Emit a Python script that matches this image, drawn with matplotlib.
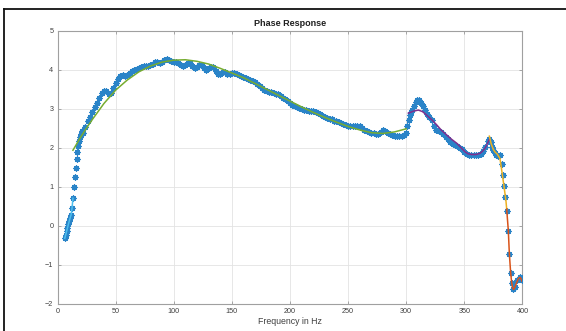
import numpy as np
import matplotlib
matplotlib.use("Agg")
import matplotlib.pyplot as plt
from matplotlib.lines import Line2D

# measured phase (blue stars) - low end, dense middle, steep high end
low_freq = [6.25, 7.03, 7.81, 8.59, 9.38, 10.16, 10.94, 11.72, 12.5, 13.28,
            14.06, 14.84, 15.63, 16.41, 17.19, 17.97, 18.75, 19.53, 20.31, 21.09]
low_phase = [-0.33, -0.24, -0.15, -0.06, 0.03, 0.12, 0.20, 0.28, 0.44, 0.70,
             0.98, 1.24, 1.48, 1.70, 1.89, 2.05, 2.17, 2.26, 2.34, 2.42]

mid_freq = np.arange(22, 301, 2)
mid_phase = [2.36, 2.52, 2.67, 2.79, 2.91, 3.03, 3.15, 3.28, 3.40, 3.45,
             3.44, 3.38, 3.40, 3.52, 3.65, 3.76, 3.83, 3.85, 3.83, 3.86,
             3.91, 3.96, 3.99, 4.02, 4.04, 4.06, 4.08, 4.10, 4.10, 4.11,
             4.14, 4.18, 4.19, 4.17, 4.20, 4.24, 4.26, 4.24, 4.21, 4.19,
             4.18, 4.16, 4.12, 4.09, 4.12, 4.17, 4.16, 4.08, 4.03, 4.06,
             4.12, 4.11, 4.04, 4.00, 4.03, 4.07, 4.06, 3.96, 3.88, 3.88,
             3.93, 3.93, 3.89, 3.88, 3.90, 3.91, 3.88, 3.85, 3.83, 3.82,
             3.79, 3.76, 3.74, 3.71, 3.68, 3.63, 3.58, 3.53, 3.48, 3.45,
             3.43, 3.42, 3.40, 3.38, 3.36, 3.32, 3.28, 3.24, 3.19, 3.15,
             3.10, 3.06, 3.03, 3.01, 2.99, 2.97, 2.95, 2.94, 2.93, 2.93,
             2.91, 2.88, 2.86, 2.82, 2.79, 2.76, 2.74, 2.72, 2.69, 2.67,
             2.65, 2.63, 2.61, 2.58, 2.55, 2.55, 2.56, 2.56, 2.56, 2.54,
             2.50, 2.45, 2.42, 2.39, 2.38, 2.36, 2.34, 2.34, 2.40, 2.44,
             2.42, 2.37, 2.34, 2.31, 2.30, 2.29, 2.29, 2.29, 2.31, 2.38]

high_freq = [301, 302, 303, 304, 305, 306.5, 308, 309.5, 311, 312.5,
             314, 316, 318, 320, 322, 324, 326, 328, 330, 332,
             334, 336, 338, 340, 342, 344, 346, 348, 350, 352,
             354, 356, 358, 360, 362, 364, 366, 368, 370, 371.3,
             372.5, 373.8, 375, 376.3, 377.6, 379, 380.6, 382.1, 383.5, 384.4,
             385.2, 386.4, 387.8, 388.7, 389.8, 390.7, 392.1, 393.5, 395.6, 397.9,
             399.6]
high_phase = [2.55, 2.70, 2.83, 2.90, 2.96, 3.06, 3.17, 3.22, 3.21, 3.15,
              3.07, 2.96, 2.87, 2.79, 2.70, 2.55, 2.46, 2.42, 2.40, 2.34,
              2.27, 2.21, 2.14, 2.09, 2.06, 2.03, 2.00, 1.95, 1.89, 1.84,
              1.81, 1.80, 1.80, 1.81, 1.82, 1.84, 1.90, 2.02, 2.17, 2.23,
              2.15, 2.02, 1.93, 1.86, 1.80, 1.78, 1.80, 1.58, 1.30, 1.01,
              0.74, 0.38, -0.13, -0.73, -1.21, -1.47, -1.64, -1.57, -1.40, -1.31,
              -1.41]

# piecewise fits
fit1_freq = [6.25, 7.03, 7.81, 8.59, 9.38, 10.16, 10.94, 11.72, 12.5, 13.28]
fit1_phase = [-0.33, -0.24, -0.15, -0.06, 0.03, 0.12, 0.20, 0.28, 0.44, 0.70]

fit2_freq = [13.3, 20, 25, 30, 40, 50, 60, 70, 80, 90, 100, 110, 120, 130, 140,
             150, 160, 170, 180, 190, 200, 210, 220, 230, 240, 250, 260, 270,
             280, 290, 300]
fit2_phase = [1.93, 2.27, 2.50, 2.72, 3.13, 3.47, 3.73, 3.94, 4.09, 4.19, 4.24,
              4.25, 4.21, 4.14, 4.03, 3.91, 3.79, 3.64, 3.49, 3.34, 3.19, 3.04,
              2.90, 2.77, 2.65, 2.54, 2.45, 2.38, 2.36, 2.40, 2.48]

fit3_freq = [301.8, 306, 310.4, 314, 317.6, 322, 326.2, 330, 334.8, 339, 343.4,
             347, 350.5, 353, 356.3, 360, 363.4, 365.5, 367.7, 369.5, 371.5]
fit3_phase = [2.88, 2.93, 2.96, 2.92, 2.83, 2.71, 2.58, 2.45, 2.32, 2.21, 2.11,
              2.00, 1.89, 1.84, 1.82, 1.82, 1.85, 1.90, 1.98, 2.08, 2.21]

fit4_freq = [371.5, 373, 374.9, 376.5, 378.3, 380.6, 382.1, 384.1, 385.8, 386.4]
fit4_phase = [2.29, 2.10, 1.95, 1.88, 1.83, 1.72, 1.42, 1.00, 0.62, 0.42]

fit5_freq = [386.4, 387.8, 388.7, 389.8, 390.7, 391.5, 392.3, 393.5, 395, 396.5,
             397.9, 399, 399.6]
fit5_phase = [0.42, -0.13, -0.73, -1.21, -1.47, -1.60, -1.64, -1.58, -1.46, -1.36,
              -1.33, -1.38, -1.43]

freq = np.concatenate([low_freq, mid_freq, high_freq])
phase = np.concatenate([low_phase, mid_phase, high_phase])

plt.rcParams['font.family'] = ['Liberation Sans', 'DejaVu Sans']

W, H = 566, 331
fig = plt.figure(figsize=(W / 100, H / 100), dpi=100)
ax = fig.add_axes([57.5 / W, 1 - 303.5 / H, 465 / W, 273 / H])

ax.plot(freq, phase, ls='none', marker=(8, 2, 0), ms=4.3, mew=0.9, color='#2a84c8', zorder=3)
ax.plot(fit1_freq, fit1_phase, color='#4DBEEE', lw=1.1, zorder=4)
ax.plot(fit2_freq, fit2_phase, color='#77AC30', lw=1.1, zorder=4)
ax.plot(fit3_freq, fit3_phase, color='#7E2F8E', lw=1.1, zorder=4)
ax.plot(fit4_freq, fit4_phase, color='#EDB120', lw=1.1, zorder=4)
ax.plot(fit5_freq, fit5_phase, color='#D95319', lw=1.1, zorder=4)

ax.set_xlim(0, 400)
ax.set_ylim(-2, 5)
ax.set_xticks(np.arange(0, 401, 50))
ax.set_yticks(np.arange(-2, 6, 1))
ax.grid(True, color='#e3e3e3', lw=0.6)
ax.set_axisbelow(True)
ax.tick_params(direction='in', length=2.5, width=0.6, colors='#9a9a9a',
               labelcolor='#404040', labelsize=5.2, top=True, right=True, pad=3)
for s in ax.spines.values():
    s.set_color('#a0a0a0')
    s.set_linewidth(0.8)

ax.set_title('Phase Response', fontsize=6.5, fontweight='bold', pad=3, color='#202020')
ax.set_xlabel('Frequency in Hz', fontsize=6.3, color='#404040', labelpad=2)

# window frame of the screenshot
fig.add_artist(Line2D([4 / W, 4 / W], [0, 1 - 9 / H], transform=fig.transFigure, color='#111111', lw=1.3))
fig.add_artist(Line2D([4 / W, 1], [1 - 9 / H, 1 - 9 / H], transform=fig.transFigure, color='#111111', lw=1.3))

fig.savefig('out.png', dpi=100)
